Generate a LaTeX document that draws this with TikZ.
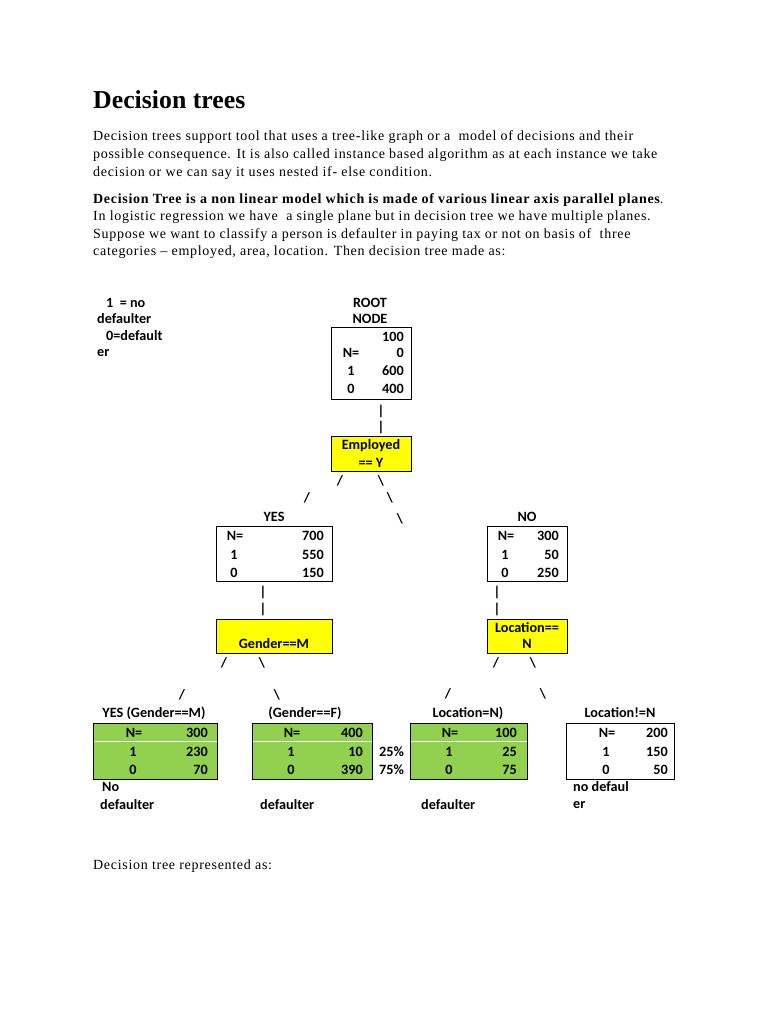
\documentclass[tikz,border=0pt]{standalone}
\usepackage{fontspec}
\setmainfont{Liberation Serif}
\newfontfamily\bodyfont{Liberation Serif}[LetterSpace=5]
\newfontfamily\diagfont{Carlito}
\definecolor{leafgreen}{HTML}{92D050}
\definecolor{boxyellow}{HTML}{FFFF00}
\begin{document}
\begin{tikzpicture}[x=1pt,y=-1pt,
  body/.style={anchor=base west,inner sep=0,font=\bodyfont\fontsize{14}{16}\selectfont},
  dg/.style={inner sep=0,font=\diagfont\bfseries\fontsize{14.2}{16}\selectfont},
  dgl/.style={dg,anchor=west},
  dgr/.style={dg,anchor=east},
  tbox/.style={draw=black,line width=1.1pt,inner sep=0,anchor=north west},
  ybox/.style={tbox,fill=boxyellow},
  gbox/.style={tbox,fill=leafgreen,line width=1.4pt},
  sep/.style={white,line width=0.8pt}
]
\useasboundingbox[fill=white] (0,0) rectangle (768,1024);

% ---------- text ----------
\node[anchor=base west,inner sep=0,font=\bfseries\fontsize{25.8}{30}\selectfont] (title) at (93,109) {Decision trees};
\node[body] (p1) at (93,141) {Decision trees support tool that uses a tree-like graph or a\ \ model of decisions and their};
\node[body] (p2) at (93,159) {possible consequence. It is also called instance based algorithm as at each instance we take};
\node[body] (p3) at (93,177) {decision or we can say it uses nested if- else condition.};
\node[body] (p4) at (93,204) {\textbf{Decision Tree is a non linear model which is made of various linear axis parallel planes}.};
\node[body] (p5) at (93,221) {In logistic regression we have\ \ a single plane but in decision tree we have multiple planes.};
\node[body] (p6) at (93,238) {Suppose we want to classify a person is defaulter in paying tax or not on basis of\ \ three};
\node[body] (p7) at (93,255) {categories \textendash{} employed, area, location. Then decision tree made as:};
\node[body] (p8) at (93,869) {Decision tree represented as:};

% ---------- legend ----------
\node[dgl] (lg1) at (106,303) {1\ \ = no};
\node[dgl] (lg2) at (97,319) {defaulter};
\node[dgl] (lg3) at (106,336) {0=default};
\node[dgl] (lg4) at (97,353) {er};

% ---------- root ----------
\node[dg] (roott) at (370,303) {ROOT};
\node[dg] (rootn) at (370,319) {NODE};
\node[tbox,minimum width=80,minimum height=72] (root) at (331,327) {};
\node[dgr] (r0) at (404,337) {100};
\node[dg]  (r1a) at (351,353) {N=};
\node[dgr] (r1b) at (404,353) {0};
\node[dg]  (r2a) at (351,371) {1};
\node[dgr] (r2b) at (404,371) {600};
\node[dg]  (r3a) at (351,389) {0};
\node[dgr] (r3b) at (404,389) {400};

\node[dg] (c1) at (381,411) {|};
\node[dg] (c2) at (381,427) {|};

\node[ybox,minimum width=80,minimum height=35] (emp) at (331,436) {};
\node[dg] (emp1) at (371,446) {Employed};
\node[dg] (emp2) at (371,463) {== Y};

\node[dg] (c3) at (340,481) {/};
\node[dg] (c4) at (381,481) {\textbackslash};
\node[dg] (c5) at (307,498) {/};
\node[dg] (c6) at (390,498) {\textbackslash};
\node[dg] (c7) at (400,519) {\textbackslash};

% ---------- YES ----------
\node[dg] (yest) at (274,517) {YES};
\node[tbox,minimum width=116,minimum height=55] (yes) at (216,526) {};
\node[dg]  (y1a) at (235,536) {N=};
\node[dgr] (y1b) at (324,536) {700};
\node[dg]  (y2a) at (234,555) {1};
\node[dgr] (y2b) at (324,555) {550};
\node[dg]  (y3a) at (234,573) {0};
\node[dgr] (y3b) at (324,573) {150};

% ---------- NO ----------
\node[dg] (not) at (527,517) {NO};
\node[tbox,minimum width=80,minimum height=55] (no) at (487,526) {};
\node[dg]  (n1a) at (506,536) {N=};
\node[dgr] (n1b) at (559,536) {300};
\node[dg]  (n2a) at (505,555) {1};
\node[dgr] (n2b) at (559,555) {50};
\node[dg]  (n3a) at (505,573) {0};
\node[dgr] (n3b) at (559,573) {250};

\node[dg] (c8) at (263,592) {|};
\node[dg] (c9) at (263,609) {|};
\node[dg] (c10) at (497,592) {|};
\node[dg] (c11) at (497,609) {|};

\node[ybox,minimum width=116,minimum height=34] (gen) at (216,619) {};
\node[dg] (gen1) at (274,644) {Gender==M};
\node[ybox,minimum width=80,minimum height=34] (loc) at (487,619) {};
\node[dg] (loc1) at (527,628) {Location==};
\node[dg] (loc2) at (527,644) {N};

\node[dg] (c12) at (224,663) {/};
\node[dg] (c13) at (262,663) {\textbackslash};
\node[dg] (c14) at (496,663) {/};
\node[dg] (c15) at (533,663) {\textbackslash};
\node[dg] (c16) at (182,695) {/};
\node[dg] (c17) at (277,695) {\textbackslash};
\node[dg] (c18) at (448,694) {/};
\node[dg] (c19) at (543,694) {\textbackslash};

% ---------- leaves ----------
\node[dg] (l1t) at (154,713) {YES (Gender==M)};
\node[gbox,minimum width=124,minimum height=56] (l1) at (93,723) {};
\draw[sep] ([xshift=1pt,yshift=-18pt]l1.north west) -- ([xshift=-1pt,yshift=-18pt]l1.north east);
\node[dg]  (l1a) at (134,733) {N=};
\node[dgr] (l1b) at (208,733) {300};
\node[dg]  (l1c) at (133,752) {1};
\node[dgr] (l1d) at (208,752) {230};
\node[dg]  (l1e) at (133,770) {0};
\node[dgr] (l1f) at (208,770) {70};

\node[dg] (l2t) at (305,713) {(Gender==F)};
\node[gbox,minimum width=120,minimum height=56] (l2) at (252,723) {};
\draw[sep] ([xshift=1pt,yshift=-18pt]l2.north west) -- ([xshift=-1pt,yshift=-18pt]l2.north east);
\node[dg]  (l2a) at (292,733) {N=};
\node[dgr] (l2b) at (363,733) {400};
\node[dg]  (l2c) at (291,752) {1};
\node[dgr] (l2d) at (363,752) {10};
\node[dg]  (l2e) at (291,770) {0};
\node[dgr] (l2f) at (363,770) {390};

\node[dgl] (pc1) at (379,752) {25\%};
\node[dgl] (pc2) at (379,770) {75\%};

\node[dg] (l3t) at (468,713) {Location=N)};
\node[gbox,minimum width=117,minimum height=56] (l3) at (410,723) {};
\draw[sep] ([xshift=1pt,yshift=-18pt]l3.north west) -- ([xshift=-1pt,yshift=-18pt]l3.north east);
\node[dg]  (l3a) at (450,733) {N=};
\node[dgr] (l3b) at (517,733) {100};
\node[dg]  (l3c) at (449,752) {1};
\node[dgr] (l3d) at (517,752) {25};
\node[dg]  (l3e) at (449,770) {0};
\node[dgr] (l3f) at (517,770) {75};

\node[dg] (l4t) at (620,713) {Location!=N};
\node[tbox,minimum width=108,minimum height=56,line width=1.4pt] (l4) at (566,723) {};
\node[dg]  (l4a) at (607,733) {N=};
\node[dgr] (l4b) at (668,733) {200};
\node[dg]  (l4c) at (606,752) {1};
\node[dgr] (l4d) at (668,752) {150};
\node[dg]  (l4e) at (606,770) {0};
\node[dgr] (l4f) at (668,770) {50};

\node[dgl] (u1) at (102,787) {No};
\node[dgl] (u2) at (100,805) {defaulter};
\node[dgl] (u3) at (260,805) {defaulter};
\node[dgl] (u4) at (421,805) {defaulter};
\node[dgl] (u5) at (573,787) {no defaul};
\node[dgl] (u6) at (573,805) {er};
\end{tikzpicture}
\end{document}
